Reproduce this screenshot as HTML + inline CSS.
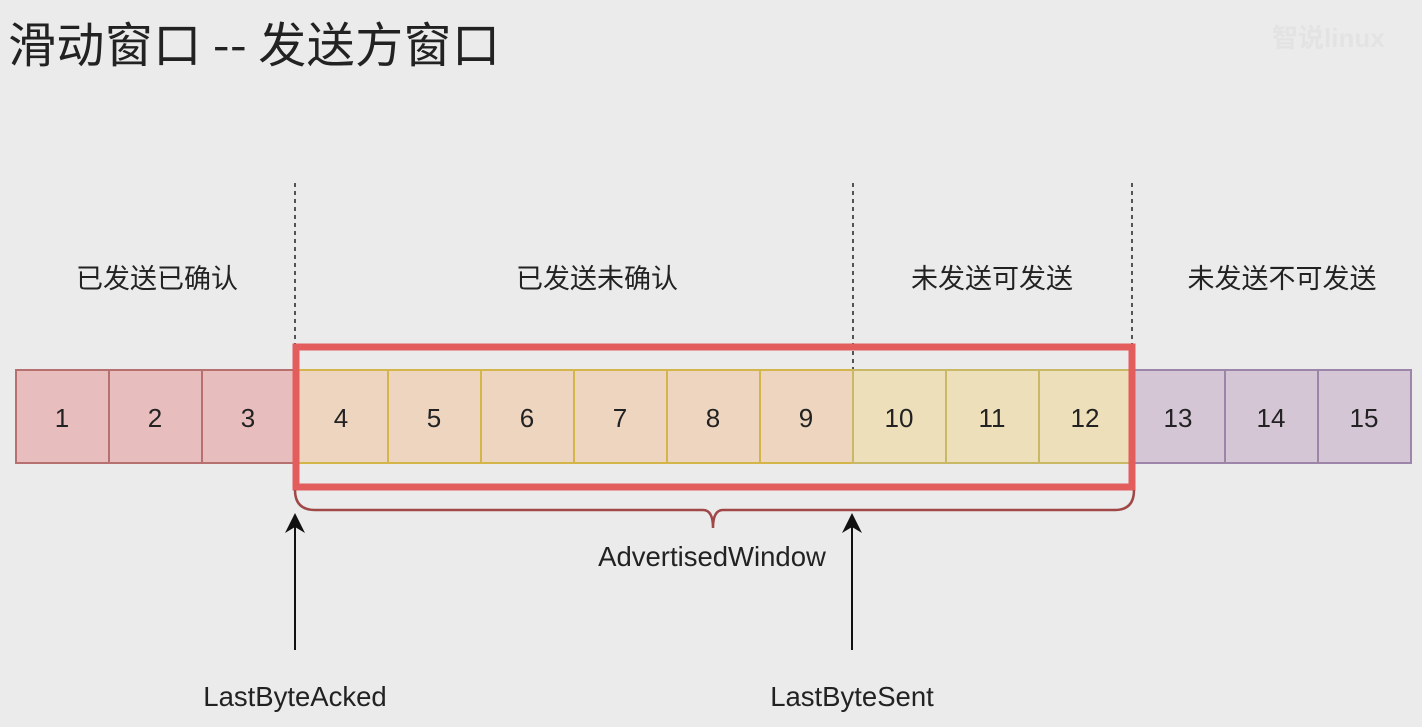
<!DOCTYPE html>
<html><head><meta charset="utf-8"><style>
html,body{margin:0;padding:0;background:#ebebeb;}
svg{display:block;}
text{font-family:"Liberation Sans","Noto Sans CJK SC",sans-serif;fill:#222;}
</style></head><body>
<svg width="1422" height="727" viewBox="0 0 1422 727" xmlns="http://www.w3.org/2000/svg">
<rect width="1422" height="727" fill="#ebebeb"/>
<text x="8" y="62" font-size="48" fill="#111" textLength="492" style="font-family:'Noto Sans CJK SC',sans-serif">滑动窗口 -- 发送方窗口</text>
<text x="1272" y="47" font-size="26" style="fill:#e3e3e3;font-weight:bold">智说linux</text>
<g stroke="#222" stroke-width="1.5" stroke-dasharray="4,4">
<line x1="295" y1="183" x2="295" y2="345"/>
<line x1="853" y1="183" x2="853" y2="370"/>
<line x1="1132" y1="183" x2="1132" y2="345"/>
</g>
<g font-size="27" text-anchor="middle" style="font-family:'Noto Sans CJK SC',sans-serif">
<text x="157" y="288">已发送已确认</text>
<text x="597" y="288">已发送未确认</text>
<text x="992" y="288">未发送可发送</text>
<text x="1282" y="288">未发送不可发送</text>
</g>
<g stroke-width="2">
<g fill="#e8bdbd" stroke="#b5706f">
<rect x="16" y="370" width="93" height="93"/><rect x="109" y="370" width="93" height="93"/><rect x="202" y="370" width="93" height="93"/>
</g>
<g fill="#edd5c0" stroke="#d3b54a">
<rect x="295" y="370" width="93" height="93"/><rect x="388" y="370" width="93" height="93"/><rect x="481" y="370" width="93" height="93"/><rect x="574" y="370" width="93" height="93"/><rect x="667" y="370" width="93" height="93"/><rect x="760" y="370" width="93" height="93"/>
</g>
<g fill="#eddfb9" stroke="#c9b865">
<rect x="853" y="370" width="93" height="93"/><rect x="946" y="370" width="93" height="93"/><rect x="1039" y="370" width="93" height="93"/>
</g>
<g fill="#d5c6d6" stroke="#9c85a8">
<rect x="1132" y="370" width="93" height="93"/><rect x="1225" y="370" width="93" height="93"/><rect x="1318" y="370" width="93" height="93"/>
</g>
</g>
<g font-size="26" text-anchor="middle">
<text x="62" y="427">1</text><text x="155" y="427">2</text><text x="248" y="427">3</text>
<text x="341" y="427">4</text><text x="434" y="427">5</text><text x="527" y="427">6</text><text x="620" y="427">7</text><text x="713" y="427">8</text><text x="806" y="427">9</text>
<text x="899" y="427">10</text><text x="992" y="427">11</text><text x="1085" y="427">12</text>
<text x="1178" y="427">13</text><text x="1271" y="427">14</text><text x="1364" y="427">15</text>
</g>
<rect x="296" y="347" width="836" height="140" fill="none" stroke="#e35d5d" stroke-width="7"/>
<path d="M295 490 Q295 510 315 510 L703 510 Q713 510 713 528 Q713 510 723 510 L1115 510 Q1134 510 1134 490" fill="none" stroke="#a04848" stroke-width="2.5"/>
<text x="712" y="566" font-size="27.5" text-anchor="middle">AdvertisedWindow</text>
<g stroke="#111" stroke-width="2">
<line x1="295" y1="650" x2="295" y2="525"/>
<line x1="852" y1="650" x2="852" y2="525"/>
</g>
<path d="M295 513 L285 533 L295 527 L305 533 Z" fill="#111"/>
<path d="M852 513 L842 533 L852 527 L862 533 Z" fill="#111"/>
<text x="295" y="706" font-size="27.5" text-anchor="middle">LastByteAcked</text>
<text x="852" y="706" font-size="27.5" text-anchor="middle">LastByteSent</text>
</svg>
</body></html>
